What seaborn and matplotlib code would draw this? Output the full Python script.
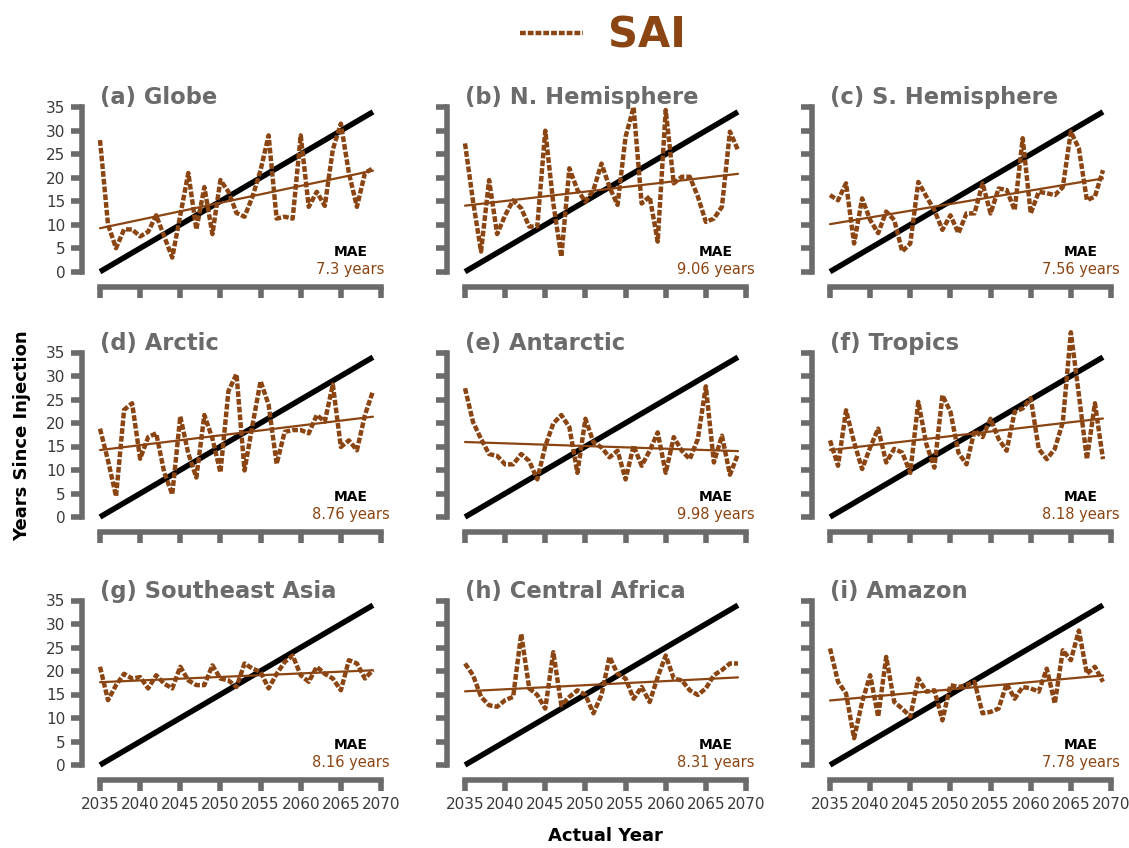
import numpy as np
import pandas as pd
import matplotlib
matplotlib.use("Agg")
import matplotlib.pyplot as plt
from matplotlib.lines import Line2D
import seaborn as sns

sns.set_theme(style="white")
plt.rcParams["font.family"] = ["DejaVu Sans"]

years = list(range(2035, 2070))

globe = [28, 10, 5, 9, 9, 7.5, 8.5, 12, 7.5, 3, 12, 21, 9, 18, 8, 19.5, 17, 12.5, 11.7, 16,
         21.6, 29, 11.3, 11.7, 11.3, 29, 13.8, 17, 14, 26, 31.5, 21, 13.8, 21, 22]
n_hemi = [27.3, 15, 4.3, 19.5, 8, 12, 15.2, 13.5, 9.6, 9.6, 30, 14.5, 3.2, 22, 17.4, 14.9, 17.4,
          23, 18, 14.2, 28.7, 35, 14.5, 16, 6.4, 34.4, 18.8, 20.2, 20.2, 16, 10.6, 11.3, 13.8,
          29.8, 25.9]
s_hemi = [16.3, 15.2, 18.8, 6, 15.6, 11, 8.2, 12.8, 11, 4.3, 6, 19.1, 16, 13.1, 8.9, 12, 8.2,
          12.4, 12.4, 18.8, 12.4, 17.7, 17.4, 13.1, 28.4, 12.4, 17, 16.7, 16.3, 18, 29.8, 26.2,
          15.2, 16, 21.6]
arctic = [18.8, 12, 4.4, 22.8, 24.2, 12.4, 17, 17.8, 9.5, 4.8, 21.4, 13.5, 8.4, 21.7, 16.7, 9.5,
          26.8, 30.4, 9.9, 19.6, 28.9, 23.9, 11.3, 18.1, 18.5, 18.5, 17.8, 21.7, 20.3, 28.2, 14.9,
          16.3, 14.2, 21.7, 26.8]
antarctic = [27.4, 20.2, 16.6, 13.4, 13, 11.2, 11.2, 13.4, 11.9, 8, 15.1, 19.9, 21.7, 19.1, 9.4,
             20.9, 15.9, 14.8, 12.7, 14.1, 8, 15.2, 10.9, 14.1, 18, 9.4, 17, 14.1, 12.3, 16.6,
             27.8, 11.6, 17.3, 9, 13.4]
tropics = [16.3, 10.9, 22.7, 15.9, 10.2, 14.8, 18.8, 11.6, 14.5, 13.7, 9.4, 24.5, 15.5, 10.5,
           25.9, 22.4, 13.7, 11.2, 18.4, 17, 20.9, 16.6, 14.1, 22.4, 23.1, 25.3, 14.5, 12.3, 14.5,
           20.2, 39.3, 26, 12.3, 24.2, 12.3]
se_asia = [20.9, 13.8, 17, 19.4, 18.4, 18.7, 16.3, 19.1, 17.3, 16.3, 20.9, 18, 17, 17, 21.2, 18.4,
           18, 16.6, 21.6, 20.5, 19.8, 16.3, 19.4, 21.9, 23.3, 19.1, 17.7, 20.9, 19.4, 18.4, 15.9,
           22.3, 21.6, 18.4, 20.2]
c_africa = [21.6, 19.1, 14.5, 12.7, 12.4, 13.8, 14.5, 27.9, 16.3, 14.9, 12, 24, 12.7, 14.5, 15.9,
            14.9, 11, 14.9, 23, 19.4, 18.4, 14.1, 16.6, 13.4, 18.7, 23.3, 18.4, 18, 15.9, 14.9,
            16.3, 19.1, 20.2, 21.6, 21.6]
amazon = [24.8, 17.7, 15.2, 5.7, 13.4, 19.1, 10.3, 23, 13.4, 12, 10.3, 18.4, 15.6, 15.9, 9.5, 17,
          16.6, 17, 17.7, 11, 11.3, 12, 17.3, 14.1, 16.6, 16.3, 15.6, 20.5, 13.1, 24.4, 22.3, 28.6,
          19.4, 20.9, 17.7]

titles = ["(a) Globe", "(b) N. Hemisphere", "(c) S. Hemisphere", "(d) Arctic", "(e) Antarctic",
          "(f) Tropics", "(g) Southeast Asia", "(h) Central Africa", "(i) Amazon"]
series = [globe, n_hemi, s_hemi, arctic, antarctic, tropics, se_asia, c_africa, amazon]
mae = ["7.3 years", "9.06 years", "7.56 years", "8.76 years", "9.98 years", "8.18 years",
       "8.16 years", "8.31 years", "7.78 years"]

xticks = [2035, 2040, 2045, 2050, 2055, 2060, 2065, 2070]
yticks = [0, 5, 10, 15, 20, 25, 30, 35]

BROWN = "#8B4513"
GREY = "#6b6b6b"
DOTS = (0, (1.3, 0.45))

W, H = 1129, 848
fig = plt.figure(figsize=(W / 100, H / 100), dpi=100)

col_left = [100, 465, 830]
col_width = 281
row_bottom = [271.7, 517, 765]
row_height = 164.5

for i, (title, vals, m) in enumerate(zip(titles, series, mae)):
    r, c = divmod(i, 3)
    ax = fig.add_axes([col_left[c] / W, 1 - row_bottom[r] / H, col_width / W, row_height / H])
    df = pd.DataFrame({"year": years, "yrs": vals})

    # 1:1 reference line
    ax.plot([years[0], years[-1]], [0, years[-1] - years[0]], color="black", lw=4,
            solid_capstyle="butt", zorder=2)
    # linear trend of the predictions
    sns.regplot(data=df, x="year", y="yrs", ax=ax, scatter=False, ci=None,
                line_kws=dict(color=BROWN, lw=1.6, zorder=3))
    # predicted years since injection
    sns.lineplot(data=df, x="year", y="yrs", ax=ax, color=BROWN, lw=3.2, linestyle=DOTS,
                 zorder=4)
    for ln in ax.get_lines():
        ln.set_clip_on(False)

    ax.set_xlim(2035, 2070)
    ax.set_ylim(0, 35)
    ax.set_xticks(xticks)
    ax.set_yticks(yticks)
    ax.set_xlabel("")
    ax.set_ylabel("")
    for side in ("top", "right"):
        ax.spines[side].set_visible(False)
    ax.spines["left"].set_position(("outward", 13))
    ax.spines["bottom"].set_position(("outward", 11))
    ax.spines["left"].set_bounds(0, 35)
    ax.spines["bottom"].set_bounds(2035, 2070)
    for side in ("left", "bottom"):
        ax.spines[side].set_linewidth(4)
        ax.spines[side].set_color(GREY)
        ax.spines[side].set_capstyle("projecting")
    ax.tick_params(axis="both", which="major", bottom=True, left=True, top=False, right=False,
                   length=8, width=4, color=GREY, labelsize=11, labelcolor="#3a3a3a",
                   pad=4, direction="out")
    if c != 0:
        ax.set_yticklabels([])
    if r != 2:
        ax.set_xticklabels([])

    ax.text(2035, 35.6, title, fontsize=16.3, fontweight="bold", color=GREY,
            ha="left", va="baseline")
    ax.text(2066.2, 4.2, "MAE", fontsize=10, fontweight="bold", color="black",
            ha="center", va="center")
    ax.text(2066.2, 0.5, m, fontsize=10.5, color=BROWN, ha="center", va="center")

fig.text(22 / W, 1 - 436 / H, "Years Since Injection", rotation=90, fontsize=13,
         fontweight="bold", color="black", ha="center", va="center")
fig.text(605 / W, 1 - 836 / H, "Actual Year", fontsize=13, fontweight="bold",
         color="black", ha="center", va="center")

handle = Line2D([], [], color=BROWN, lw=3.2, linestyle=DOTS)
leg = fig.legend(handles=[handle], labels=["SAI"], loc="center",
                 bbox_to_anchor=(603 / W, 1 - 36 / H), frameon=False,
                 prop=dict(size=30, weight="bold"), handlelength=1.5, handletextpad=0.6,
                 labelcolor=BROWN)

fig.savefig("out.png", dpi=100)
